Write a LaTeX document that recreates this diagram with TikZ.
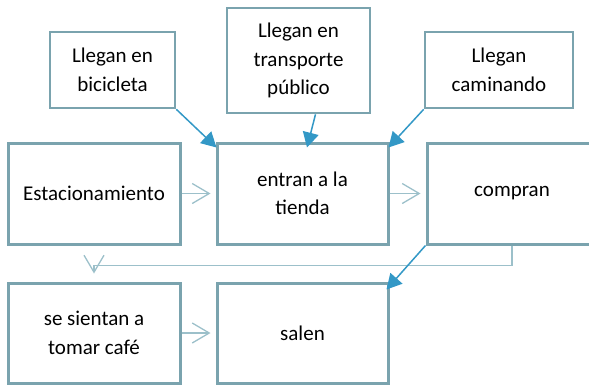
\documentclass[tikz,border=0pt]{standalone}
\usepackage{fontspec}
\setmainfont{Carlito}
\usepackage{xcolor}
\definecolor{frame}{HTML}{7AA3AE}
\definecolor{pale}{HTML}{9CC0CA}
\definecolor{sky}{HTML}{3398C6}
\usepackage{tikz}
\usetikzlibrary{arrows.meta,positioning}
\tikzset{
  font=\fontsize{21}{28.5}\selectfont,
  box/.style={draw=frame,line width=3pt,fill=white,align=center,inner sep=0pt,
              minimum width=171pt,minimum height=101pt},
  tagbox/.style={box,line width=2.7pt},
  flow/.style={-{Straight Barb[length=17pt,width=20pt,line width=1.3pt]},line width=1.3pt,
               draw=pale,shorten >=5pt},
  flowa/.style={-{Triangle[length=15pt,width=16pt]},line width=1.5pt,draw=sky},
}
\begin{document}
\begin{tikzpicture}[x=1pt,y=1pt]
  \useasboundingbox (0,0) rectangle (589,-386);

  % top row: how people arrive
  \node[tagbox,minimum width=125pt,minimum height=76pt] (bici) at (112.5,-70) {Llegan en\\bicicleta};
  \node[tagbox,minimum width=143pt,minimum height=105pt] (trans) at (298.5,-60.5) {Llegan en\\transporte\\público};
  \node[tagbox,minimum width=148pt,minimum height=76pt] (cami) at (499,-70) {Llegan\\caminando};

  % main row (compran runs past the right edge)
  \node[box,minimum width=172pt] (est) at (94,-193.5) {Estacionamiento};
  \node[box] (entran) at (302.5,-193.5) {entran a la\\tienda};
  \node[box,minimum width=210pt] (compran) at (532,-193.5) {compran\hspace*{40pt}};

  % bottom row
  \node[box,minimum width=172pt,minimum height=100pt] (sientan) at (94,-333) {se sientan a\\tomar café};
  \node[box,minimum height=100pt] (salen) at (302.5,-333) {salen};

  \draw[flow] (est) -- (entran);
  \draw[flow] (entran) -- (compran);
  \draw[flow] (sientan) -- (salen);
  \draw[flow,shorten >=8pt] ([xshift=-20pt]compran.south) -- ++(0,-20) -| (sientan.north);

  \draw[flowa] (bici.south east) -- ([shift={(1pt,-6pt)}]entran.north west);
  \draw[flowa] ([xshift=17pt]trans.south) -- ([shift={(4.5pt,-6pt)}]entran.north);
  \draw[flowa] (cami.south west) -- ([shift={(-1pt,-6pt)}]entran.north east);
  \draw[flowa] (compran.south west) -- ([shift={(-3pt,-8pt)}]salen.north east);
\end{tikzpicture}
\end{document}
